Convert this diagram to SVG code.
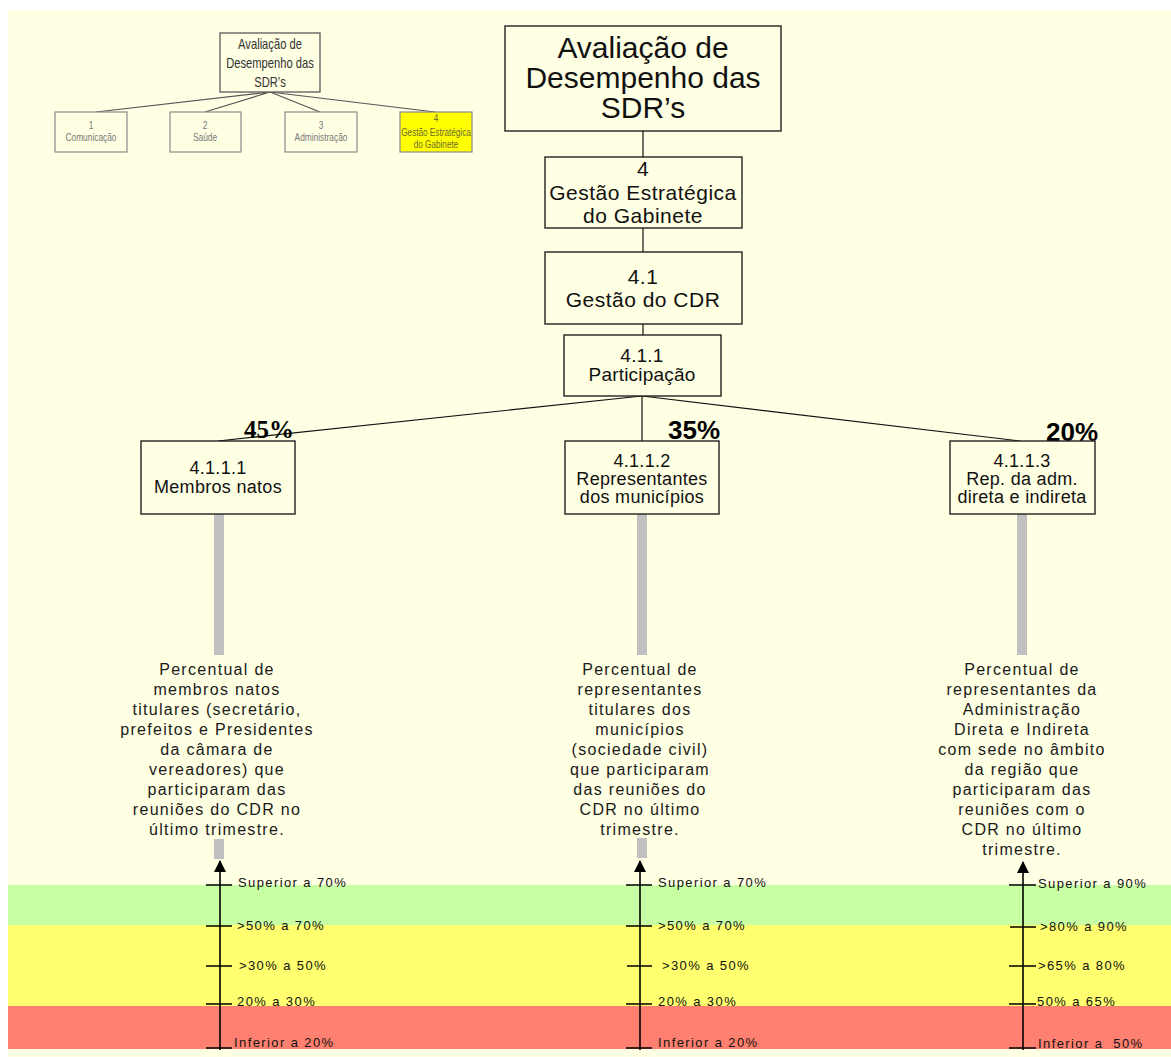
<svg xmlns="http://www.w3.org/2000/svg" width="1171" height="1057" viewBox="0 0 1171 1057">
  <style>
    text { font-family: "Liberation Sans", Arial, sans-serif; fill: #111; }
    .box { fill: #FFFFE3; stroke: #222; stroke-width: 1.4; }
    .mbox { fill: #FFFFE3; stroke: #8a8a8a; stroke-width: 1.2; }
    .mroot { fill: #FFFFE3; stroke: #666; stroke-width: 1.4; }
    .mtxt { font-size: 11px; fill: #777; }
    .mroottxt { font-size: 14px; fill: #333; }
    .t30 { font-size: 30px; }
    .t21 { font-size: 21px; letter-spacing: 0.5px; }
    .t19 { font-size: 19px; letter-spacing: 0.2px; }
    .t18 { font-size: 18px; letter-spacing: 0.3px; }
    .desc { font-size: 16px; letter-spacing: 1.3px; fill: #1a1a1a; }
    .scale { font-size: 13px; letter-spacing: 1.4px; fill: #111; }
    .pct { font-size: 26px; font-weight: bold; fill: #000; }
    .link { stroke: #111; stroke-width: 1.2; fill: none; }
    .mlink { stroke: #555; stroke-width: 1.2; fill: none; }
    .bar { fill: #C0C0C0; }
    .axis { stroke: #000; stroke-width: 1.6; }
    .tick { stroke: #000; stroke-width: 1.3; }
  </style>
  <defs>
    <marker id="arrowUp" viewBox="0 0 12 12" refX="11" refY="6" markerWidth="12" markerHeight="12" markerUnits="userSpaceOnUse" orient="auto">
      <path d="M0,0 L12,6 L0,12 Z" fill="#000"/>
    </marker>
  </defs>

  <!-- background -->
  <rect x="0" y="0" width="1171" height="1057" fill="#FFFFFF"/>
  <rect x="8" y="10" width="1163" height="1047" fill="#FFFFE3"/>

  <!-- performance bands -->
  <g id="bands">
    <rect x="8" y="885" width="1163" height="40" fill="#C8FFA4"/>
    <rect x="8" y="925" width="1163" height="81" fill="#FFFF70"/>
    <rect x="8" y="1006" width="1163" height="43" fill="#FF8070"/>
  </g>

  <!-- overview tree (top left) -->
  <g id="overview-links">
    <path class="mlink" d="M270,92 L96,112 M270,92 L205,112 M270,92 L320,112 M270,92 L435,112"/>
  </g>
  <g id="overview-root">
    <rect class="mroot" x="220" y="33" width="100" height="59"/>
    <text class="mroottxt" text-anchor="middle" transform="translate(270,49) scale(0.8,1)">Avaliação de</text>
    <text class="mroottxt" text-anchor="middle" transform="translate(270,68) scale(0.8,1)">Desempenho das</text>
    <text class="mroottxt" text-anchor="middle" transform="translate(270,87) scale(0.8,1)">SDR’s</text>
  </g>
  <g id="overview-1">
    <rect class="mbox" x="55" y="112" width="72" height="40"/>
    <text class="mtxt" text-anchor="middle" transform="translate(91,129) scale(0.76,1)">1</text>
    <text class="mtxt" text-anchor="middle" transform="translate(91,141) scale(0.76,1)">Comunicação</text>
  </g>
  <g id="overview-2">
    <rect class="mbox" x="170" y="112" width="71" height="40"/>
    <text class="mtxt" text-anchor="middle" transform="translate(205,129) scale(0.76,1)">2</text>
    <text class="mtxt" text-anchor="middle" transform="translate(205,141) scale(0.76,1)">Saúde</text>
  </g>
  <g id="overview-3">
    <rect class="mbox" x="285" y="112" width="72" height="40"/>
    <text class="mtxt" text-anchor="middle" transform="translate(321,129) scale(0.76,1)">3</text>
    <text class="mtxt" text-anchor="middle" transform="translate(321,141) scale(0.76,1)">Administração</text>
  </g>
  <g id="overview-4">
    <rect x="400" y="112" width="72" height="40" fill="#FFFF00" stroke="#8a8a8a" stroke-width="1.2"/>
    <text class="mtxt" style="font-size:10px;fill:#6e6a30" text-anchor="middle" transform="translate(436,122) scale(0.82,1)">4</text>
    <text class="mtxt" style="font-size:10px;fill:#6e6a30" text-anchor="middle" transform="translate(436,136) scale(0.82,1)">Gestão Estratégica</text>
    <text class="mtxt" style="font-size:10px;fill:#6e6a30" text-anchor="middle" transform="translate(436,148) scale(0.82,1)">do Gabinete</text>
  </g>

  <!-- main hierarchy connectors -->
  <g id="connectors">
    <path class="link" d="M643,131 L643,157"/>
    <path class="link" d="M643,228 L643,252"/>
    <path class="link" d="M643,324 L643,335"/>
    <path class="link" d="M642,396 L218,441"/>
    <path class="link" d="M642,396 L642,441"/>
    <path class="link" d="M642,396 L1020,441"/>
    <!-- indicator stems -->
    <rect class="bar" x="214" y="514" width="10" height="141"/>
    <rect class="bar" x="637" y="514" width="10" height="141"/>
    <rect class="bar" x="1017" y="514" width="10" height="141"/>
    <rect class="bar" x="214" y="839" width="10" height="20"/>
    <rect class="bar" x="637" y="838" width="10" height="20"/>
  </g>

  <g id="root">
    <rect class="box" x="505" y="26" width="276" height="105"/>
    <text class="t30" x="643" y="58" text-anchor="middle">Avaliação de</text>
    <text class="t30" x="643" y="88" text-anchor="middle">Desempenho das</text>
    <text class="t30" x="643" y="118" text-anchor="middle">SDR’s</text>
  </g>

  <g id="node-4">
    <rect class="box" x="545" y="157" width="197" height="71"/>
    <text class="t21" x="643" y="176" text-anchor="middle">4</text>
    <text class="t21" x="643" y="200" text-anchor="middle">Gestão Estratégica</text>
    <text class="t21" x="643" y="223" text-anchor="middle">do Gabinete</text>
  </g>

  <g id="node-4-1">
    <rect class="box" x="545" y="252" width="197" height="72"/>
    <text class="t21" x="643" y="284" text-anchor="middle">4.1</text>
    <text class="t21" x="643" y="307" text-anchor="middle">Gestão do CDR</text>
  </g>

  <g id="node-4-1-1">
    <rect class="box" x="564" y="335" width="157" height="61"/>
    <text class="t19" x="642" y="362" text-anchor="middle">4.1.1</text>
    <text class="t19" x="642" y="381" text-anchor="middle">Participação</text>
  </g>

  <g id="node-4-1-1-1">
    <text class="pct" x="244" y="438" style="font-family:'Liberation Serif','Times New Roman',serif;font-size:25px">45%</text>
    <rect class="box" x="141" y="441" width="154" height="73"/>
    <text class="t18" x="218" y="474" text-anchor="middle">4.1.1.1</text>
    <text class="t18" x="218" y="493" text-anchor="middle">Membros natos</text>
    <g text-anchor="middle">
      <text class="desc" x="217" y="675">Percentual de</text>
      <text class="desc" x="217" y="695">membros natos</text>
      <text class="desc" x="217" y="715">titulares (secretário,</text>
      <text class="desc" x="217" y="735">prefeitos e Presidentes</text>
      <text class="desc" x="217" y="755">da câmara de</text>
      <text class="desc" x="217" y="775">vereadores) que</text>
      <text class="desc" x="217" y="795">participaram das</text>
      <text class="desc" x="217" y="815">reuniões do CDR no</text>
      <text class="desc" x="217" y="835">último trimestre.</text>
    </g>
  </g>

  <g id="node-4-1-1-2">
    <text class="pct" x="668" y="439">35%</text>
    <rect class="box" x="565" y="441" width="154" height="73"/>
    <text class="t18" x="642" y="467" text-anchor="middle">4.1.1.2</text>
    <text class="t18" x="642" y="485" text-anchor="middle">Representantes</text>
    <text class="t18" x="642" y="503" text-anchor="middle">dos municípios</text>
    <g text-anchor="middle">
      <text class="desc" x="640" y="675">Percentual de</text>
      <text class="desc" x="640" y="695">representantes</text>
      <text class="desc" x="640" y="715">titulares dos</text>
      <text class="desc" x="640" y="735">municípios</text>
      <text class="desc" x="640" y="755">(sociedade civil)</text>
      <text class="desc" x="640" y="775">que participaram</text>
      <text class="desc" x="640" y="795">das reuniões do</text>
      <text class="desc" x="640" y="815">CDR no último</text>
      <text class="desc" x="640" y="835">trimestre.</text>
    </g>
  </g>

  <g id="node-4-1-1-3">
    <text class="pct" x="1046" y="441">20%</text>
    <rect class="box" x="950" y="441" width="145" height="73"/>
    <text class="t18" x="1022" y="467" text-anchor="middle">4.1.1.3</text>
    <text class="t18" x="1022" y="485" text-anchor="middle">Rep. da adm.</text>
    <text class="t18" x="1022" y="503" text-anchor="middle">direta e indireta</text>
    <g text-anchor="middle">
      <text class="desc" x="1022" y="675">Percentual de</text>
      <text class="desc" x="1022" y="695">representantes da</text>
      <text class="desc" x="1022" y="715">Administração</text>
      <text class="desc" x="1022" y="735">Direta e Indireta</text>
      <text class="desc" x="1022" y="755">com sede no âmbito</text>
      <text class="desc" x="1022" y="775">da região que</text>
      <text class="desc" x="1022" y="795">participaram das</text>
      <text class="desc" x="1022" y="815">reuniões com o</text>
      <text class="desc" x="1022" y="835">CDR no último</text>
      <text class="desc" x="1022" y="855">trimestre.</text>
    </g>
  </g>

  <!-- performance scales -->
  <g id="scale-1">
    <line class="axis" x1="220" y1="1050" x2="220" y2="861" marker-end="url(#arrowUp)"/>
    <path class="tick" d="M206,885 H232 M206,926 H232 M206,966 H232 M206,1004 H232 M206,1048 H232"/>
    <text class="scale" x="238" y="887">Superior a 70%</text>
    <text class="scale" x="237" y="930">&gt;50% a 70%</text>
    <text class="scale" x="239" y="970">&gt;30% a 50%</text>
    <text class="scale" x="237" y="1006">20% a 30%</text>
    <text class="scale" x="234" y="1047">Inferior a 20%</text>
  </g>
  <g id="scale-2">
    <line class="axis" x1="640" y1="1050" x2="640" y2="861" marker-end="url(#arrowUp)"/>
    <path class="tick" d="M626,885 H652 M626,926 H652 M627,966 H652 M626,1004 H652 M626,1048 H652"/>
    <text class="scale" x="658" y="887">Superior a 70%</text>
    <text class="scale" x="658" y="930">&gt;50% a 70%</text>
    <text class="scale" x="662" y="970">&gt;30% a 50%</text>
    <text class="scale" x="658" y="1006">20% a 30%</text>
    <text class="scale" x="658" y="1047">Inferior a 20%</text>
  </g>
  <g id="scale-3">
    <line class="axis" x1="1023" y1="1050" x2="1023" y2="862" marker-end="url(#arrowUp)"/>
    <path class="tick" d="M1009,885 H1036 M1010,927 H1036 M1009,966 H1036 M1009,1004 H1036 M1009,1048 H1036"/>
    <text class="scale" x="1038" y="888">Superior a 90%</text>
    <text class="scale" x="1040" y="931">&gt;80% a 90%</text>
    <text class="scale" x="1038" y="970">&gt;65% a 80%</text>
    <text class="scale" x="1037" y="1006">50% a 65%</text>
    <text class="scale" x="1038" y="1048" xml:space="preserve">Inferior a  50%</text>
  </g>
</svg>
